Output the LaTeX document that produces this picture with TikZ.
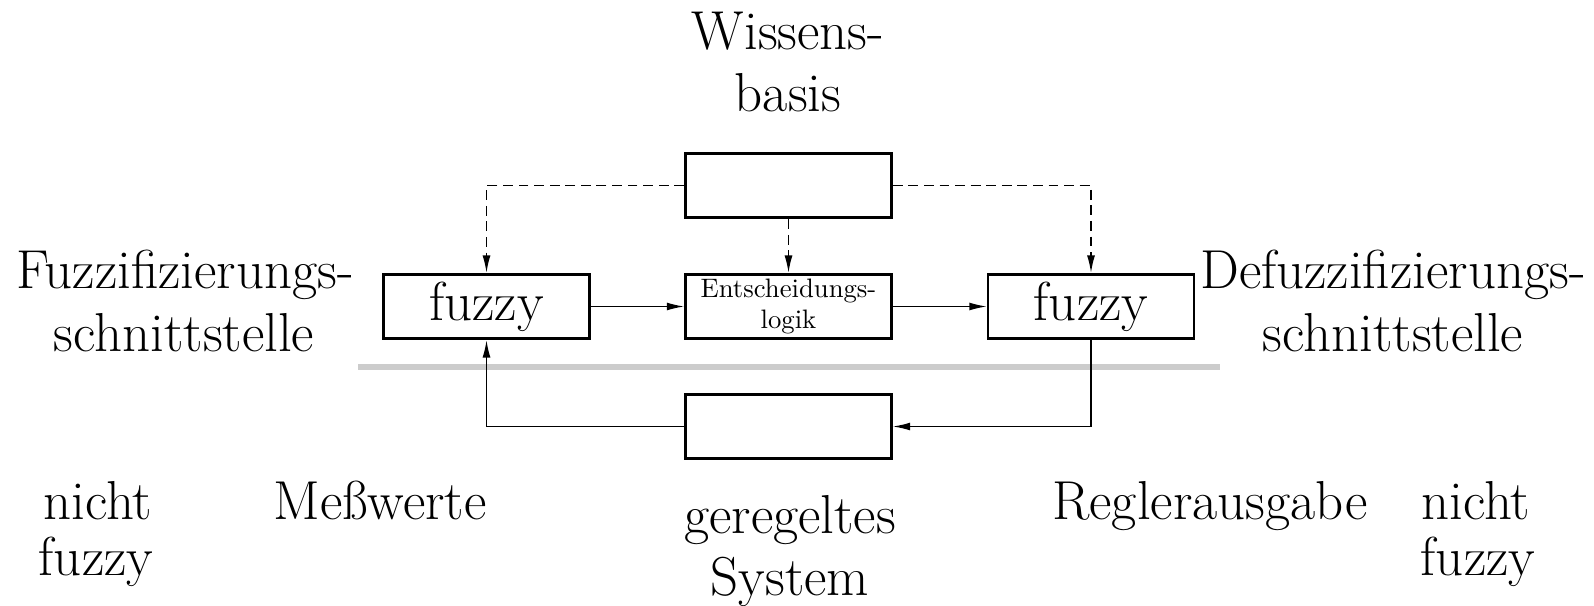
\documentclass[tikz,border=0pt]{standalone}
\usetikzlibrary{arrows.meta}
\newcommand{\bigfont}{\fontsize{22.2pt}{26pt}\selectfont}
\begin{document}
\begin{tikzpicture}[x=0.014225cm,y=-0.014225cm,
  blockbox/.style={draw,line width=1.1pt,minimum width=2.93cm,minimum height=0.92cm,inner sep=0pt,align=center},
  bigtext/.style={font=\bigfont,anchor=base,inner sep=0pt},
  arr/.style={line width=0.55pt,-{Latex[length=7pt,width=3.2pt]}},
  dashedarr/.style={arr,dash pattern=on 4pt off 2.3pt}]
\useasboundingbox (0,0) rectangle (1594,606);

% blocks
\node[blockbox] (kb) at (788.5,185.5) {};
\node[blockbox,font=\fontsize{10.8pt}{12.2pt}\selectfont] (logic) at (788.5,306.5) {Entscheidungs-\\logik};
\node[blockbox,font=\bigfont] (fuzL) at (486.5,306.5) {fuzzy};
\node[blockbox,font=\bigfont] (fuzR) at (1091,306.5) {fuzzy};
\node[blockbox] (plant) at (788.5,426.5) {};

% separation between fuzzy and crisp domain
\draw[line width=2.4pt,black!20] (358,367) -- (1220,367);

% labels
\node[bigtext] (lkb1) at (788,50) {Wissens-};
\node[bigtext] (lkb2) at (788,112) {basis};
\node[bigtext] (lfi1) at (185,289) {Fuzzifizierungs-};
\node[bigtext] (lfi2) at (184,352) {schnittstelle};
\node[bigtext] (ldf1) at (1393,289) {Defuzzifizierungs-};
\node[bigtext] (ldf2) at (1393,352) {schnittstelle};
\node[bigtext] (lnl1) at (98,519) {nicht};
\node[bigtext] (lnl2) at (96,575) {fuzzy};
\node[bigtext] (lmw) at (380,519) {Meßwerte};
\node[bigtext] (lsys1) at (790,533) {geregeltes};
\node[bigtext] (lsys2) at (790,595) {System};
\node[bigtext] (lra) at (1210,519) {Reglerausgabe};
\node[bigtext] (lnr1) at (1476,519) {nicht};
\node[bigtext] (lnr2) at (1478,575) {fuzzy};

% knowledge base links
\draw[dashedarr] (kb.west) -| (fuzL.north);
\draw[dashedarr] (kb.east) -| (fuzR.north);
\draw[dashedarr] (kb.south) -- (logic.north);

% signal flow
\draw[arr] (fuzL.east) -- (logic.west);
\draw[arr] (logic.east) -- (fuzR.west);
\draw[arr] (fuzR.south) |- (plant.east);
\draw[arr] (plant.west) -| (fuzL.south);
\end{tikzpicture}
\end{document}
